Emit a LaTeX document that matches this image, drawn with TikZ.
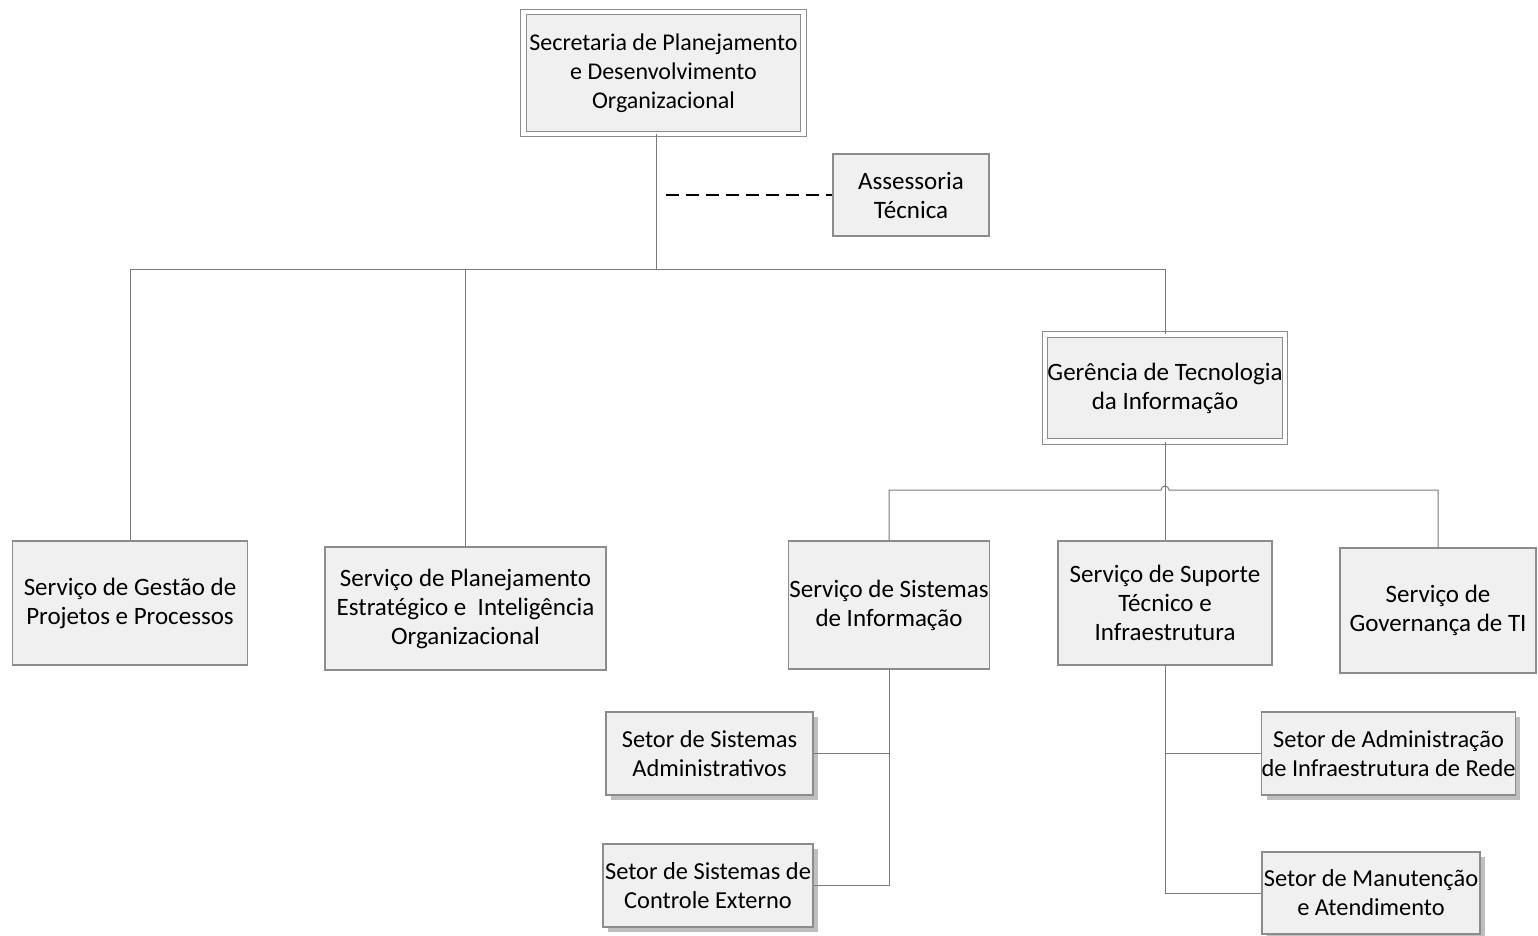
\documentclass[tikz,border=0pt]{standalone}
\usepackage{fontspec}
\setmainfont{Carlito}
\usetikzlibrary{shadows}
\colorlet{boxline}{black!45}
\colorlet{boxfill}{black!6}
\colorlet{linkc}{black!52}

\begin{document}
\begin{tikzpicture}[x=0.5pt, y=-0.5pt,
        unit/.style={draw=boxline, fill=boxfill, line width=0.6pt, inner sep=0pt,
            align=center, font=\fontsize{12.5}{14.5}\selectfont},
        head/.style={unit, double=white, double distance=2.4pt, line width=0.5pt},
        sector/.style={unit, font=\fontsize{12.2}{14.5}\selectfont,
            drop shadow={shadow xshift=2.5pt, shadow yshift=-2.5pt, fill=black!25, opacity=1}},
        link/.style={draw=linkc, line width=0.5pt}
    ]
        \useasboundingbox (0,0) rectangle (1538,936);
        % units
        \node[head, font=\fontsize{12}{14.5}\selectfont, minimum width=140pt, minimum height=61pt]
            (sec) at (663.5,73) {Secretaria de Planejamento\\e Desenvolvimento\\Organizacional};
        \node[unit, minimum width=78pt, minimum height=41pt] (ast) at (911,195)
            {Assessoria\\Técnica};
        \node[unit, minimum width=117.5pt, minimum height=62pt] (ges) at (130,603)
            {Serviço de Gestão de\\Projetos e Processos};
        \node[unit, minimum width=140.5pt, minimum height=61.5pt] (spe) at (465.5,608.5)
            {Serviço de Planejamento\\Estratégico e\ \ Inteligência\\Organizacional};
        \node[head, minimum width=120pt, minimum height=53.5pt] (gti) at (1165,388)
            {Gerência de Tecnologia\\da Informação};
        \node[unit, minimum width=100.5pt, minimum height=64pt] (ssi) at (889,605)
            {Serviço de Sistemas\\de Informação};
        \node[unit, minimum width=107pt, minimum height=62pt] (sst) at (1165,603)
            {Serviço de Suporte\\Técnico e\\Infraestrutura};
        \node[unit, minimum width=98pt, minimum height=62.5pt] (sgo) at (1438,610.5)
            {Serviço de\\Governança de TI};
        \node[sector, minimum width=103.5pt, minimum height=41.5pt] (ssa) at (709.5,753.5)
            {Setor de Sistemas\\Administrativos};
        \node[sector, minimum width=105pt, minimum height=41.5pt] (ssc) at (708,885.5)
            {Setor de Sistemas de\\Controle Externo};
        \node[sector, minimum width=126.5pt, minimum height=41.5pt] (sar) at (1388.5,753.5)
            {Setor de Administração\\de Infraestrutura de Rede};
        \node[sector, minimum width=109pt, minimum height=41pt] (sma) at (1371,893)
            {Setor de Manutenção\\e Atendimento};
        % links
        \coordinate (bus) at (656,270);
        \coordinate (bus2) at (1165,490);
        \coordinate (tap) at (666,195);
        \draw[link] (sec.south -| bus) -- (bus);
        \draw[link] (ges.north) |- (gti.north |- bus) -- (gti.north);
        \draw[link] (spe.north) -- (spe.north |- bus);
        \draw[black, line width=1pt, dash pattern=on 6.5pt off 3.5pt] (tap) -- (ast.west);
        \draw[link] (gti.south) -- (sst.north);
        \draw[link] (ssi.north) |- ([xshift=-2pt]bus2) arc[start angle=180, end angle=0, radius=2pt] -| (sgo.north);
        \draw[link] (ssi.south) |- (ssc.east);
        \draw[link] (ssa.east) -- (ssa.east -| ssi.south);
        \draw[link] (sst.south) |- (sma.west);
        \draw[link] (sar.west) -- (sar.west -| sst.south);
\end{tikzpicture}
\end{document}
